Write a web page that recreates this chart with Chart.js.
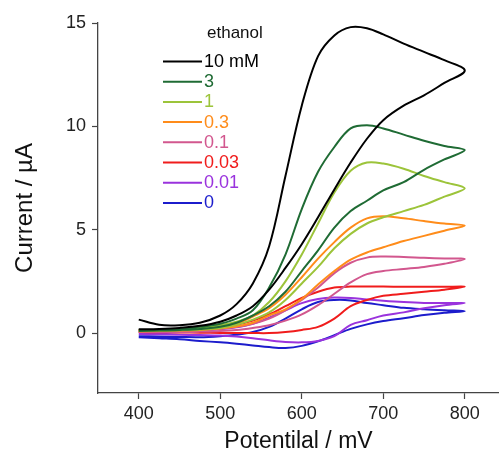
<!DOCTYPE html>
<html>
<head>
<meta charset="utf-8">
<script src="https://cdn.jsdelivr.net/npm/chart.js@4.4.0/dist/chart.umd.min.js"></script>
<style>
  html, body { margin: 0; padding: 0; background: #fff; }
  #wrap { width: 499px; height: 457px; }
</style>
</head>
<body>
<div id="wrap"><canvas id="c" width="499" height="457"></canvas></div>
<script>
// Potential grid (mV) shared by both sweep branches
const potential = [400, 425, 450, 475, 500, 520, 540, 560, 580, 600, 620, 640, 660, 680, 700, 725, 750, 775, 800];

// Currents (µA): outer (upper) branch and inner (lower) branch, on the grid above
const up_10mM  = [0.65, 0.4, 0.38, 0.5, 0.85, 1.4, 2.4, 4.2, 7.6, 11.0, 13.4, 14.4, 14.8, 14.75, 14.45, 14.0, 13.6, 13.2, 12.7];
const down_10mM = [0.18, 0.2, 0.25, 0.35, 0.55, 0.85, 1.3, 2.1, 3.15, 4.3, 5.6, 6.95, 8.25, 9.4, 10.3, 11.0, 11.5, 12.1, 12.7];

const up_3mM   = [0.15, 0.15, 0.2, 0.3, 0.45, 0.7, 1.1, 2.2, 3.8, 6.0, 7.8, 9.0, 9.9, 10.05, 9.9, 9.6, 9.3, 9.05, 8.85];
const down_3mM = [0.1, 0.12, 0.15, 0.2, 0.3, 0.5, 0.85, 1.3, 2.0, 3.0, 4.0, 5.1, 5.9, 6.4, 6.9, 7.3, 7.9, 8.4, 8.85];

const up_1mM   = [0.15, 0.15, 0.18, 0.25, 0.38, 0.55, 0.85, 1.5, 2.5, 3.8, 5.3, 6.8, 7.85, 8.25, 8.2, 7.95, 7.6, 7.3, 7.0];
const down_1mM = [0.1, 0.12, 0.14, 0.17, 0.25, 0.4, 0.65, 1.0, 1.6, 2.4, 3.2, 4.1, 4.8, 5.3, 5.6, 5.9, 6.2, 6.6, 7.0];

const up_03mM   = [0.15, 0.15, 0.17, 0.22, 0.32, 0.45, 0.8, 1.2, 1.85, 2.7, 3.6, 4.4, 5.1, 5.55, 5.65, 5.55, 5.42, 5.3, 5.2];
const down_03mM = [0.08, 0.1, 0.12, 0.15, 0.22, 0.32, 0.5, 0.85, 1.15, 1.65, 2.35, 3.0, 3.55, 3.9, 4.15, 4.45, 4.7, 4.95, 5.2];

const up_01mM   = [0.12, 0.12, 0.13, 0.16, 0.22, 0.3, 0.45, 0.7, 1.1, 1.6, 2.2, 2.9, 3.4, 3.65, 3.7, 3.68, 3.64, 3.61, 3.58];
const down_01mM = [0.05, 0.05, 0.05, 0.07, 0.1, 0.15, 0.25, 0.38, 0.6, 0.9, 1.35, 1.9, 2.45, 2.85, 3.0, 3.1, 3.2, 3.35, 3.58];

const up_003mM   = [0.1, 0.1, 0.12, 0.17, 0.28, 0.4, 0.6, 0.9, 1.3, 1.7, 2.0, 2.2, 2.25, 2.25, 2.25, 2.24, 2.24, 2.24, 2.24];
const down_003mM = [0.05, 0.04, 0.03, 0.02, 0.0, 0.0, 0.0, 0.0, 0.05, 0.15, 0.3, 0.7, 1.3, 1.6, 1.8, 1.9, 2.0, 2.1, 2.24];

const up_001mM   = [0.0, 0.02, 0.05, 0.1, 0.18, 0.28, 0.45, 0.75, 1.1, 1.45, 1.65, 1.72, 1.7, 1.62, 1.56, 1.5, 1.46, 1.45, 1.45];
const down_001mM = [-0.05, -0.06, -0.08, -0.1, -0.12, -0.17, -0.25, -0.35, -0.43, -0.45, -0.38, -0.15, 0.4, 0.62, 0.85, 1.0, 1.2, 1.35, 1.45];

const up_0mM   = [-0.15, -0.17, -0.19, -0.2, -0.15, -0.08, 0.05, 0.3, 0.7, 1.15, 1.5, 1.6, 1.58, 1.45, 1.35, 1.22, 1.15, 1.1, 1.06];
const down_0mM = [-0.2, -0.25, -0.3, -0.38, -0.45, -0.52, -0.6, -0.68, -0.72, -0.62, -0.4, -0.1, 0.2, 0.42, 0.58, 0.72, 0.87, 0.98, 1.06];

const seriesLabels = ['10 mM', '3', '1', '0.3', '0.1', '0.03', '0.01', '0'];
const seriesColors = ['#000000', '#1f6b34', '#9cc43a', '#ff8c1a', '#d2578e', '#f01c1c', '#9a33dd', '#1c1ccc'];
const upBranches = [up_10mM, up_3mM, up_1mM, up_03mM, up_01mM, up_003mM, up_001mM, up_0mM];
const downBranches = [down_10mM, down_3mM, down_1mM, down_03mM, down_01mM, down_003mM, down_001mM, down_0mM];

const xTicks = [400, 500, 600, 700, 800];
const yTicks = [0, 5, 10, 15];

function loopPoints(up, down) {
  const pts = potential.map((e, i) => ({ x: e, y: up[i] }));
  for (let i = potential.length - 2; i >= 0; i--) pts.push({ x: potential[i], y: down[i] });
  return pts;
}

const datasets = seriesLabels.map((lab, k) => ({
  label: lab,
  data: loopPoints(upBranches[k], downBranches[k]),
  borderColor: seriesColors[k],
  borderWidth: 2,
  pointRadius: 0,
  showLine: true,
  fill: false,
  tension: 0.35
}));

const FONT = '"Liberation Sans", Arial, sans-serif';

const legendPlugin = {
  id: 'inlineLegend',
  afterDraw(chart) {
    const ctx = chart.ctx;
    ctx.save();
    ctx.textBaseline = 'middle';
    ctx.textAlign = 'left';
    ctx.font = '17px ' + FONT;
    ctx.fillStyle = '#111';
    ctx.fillText('ethanol', 207, 33);
    ctx.font = '18px ' + FONT;
    seriesLabels.forEach((lab, k) => {
      const y = 61.5 + k * 20.2;
      ctx.strokeStyle = seriesColors[k];
      ctx.lineWidth = 2;
      ctx.beginPath();
      ctx.moveTo(163, y);
      ctx.lineTo(202, y);
      ctx.stroke();
      ctx.fillStyle = seriesColors[k];
      ctx.fillText(lab, 204, y + 0.5);
    });
    ctx.restore();
  }
};

new Chart(document.getElementById('c'), {
  type: 'scatter',
  data: { datasets },
  plugins: [legendPlugin],
  options: {
    responsive: false,
    animation: false,
    events: [],
    layout: { padding: { top: 23, right: 0, left: 0, bottom: 0 } },
    plugins: { legend: { display: false }, tooltip: { enabled: false } },
    scales: {
      x: {
        type: 'linear',
        min: 350, max: 842,
        afterBuildTicks: s => { s.ticks = xTicks.map(v => ({ value: v })); },
        afterFit: s => { s.height = 64; },
        grid: { display: true, drawOnChartArea: false, drawTicks: true, tickLength: 6, color: '#444', tickWidth: 1.2 },
        border: { display: true, color: '#444', width: 1.3 },
        ticks: { color: '#222', font: { family: FONT, size: 18 }, padding: 4, maxRotation: 0 },
        title: { display: true, text: 'Potentilal / mV', color: '#111', font: { family: FONT, size: 23 }, padding: { top: 0, bottom: 2 } }
      },
      y: {
        type: 'linear',
        min: -2.9, max: 15,
        afterBuildTicks: s => { s.ticks = yTicks.map(v => ({ value: v })); },
        afterFit: s => { s.width = 98; },
        grid: { display: true, drawOnChartArea: false, drawTicks: true, tickLength: 6, color: '#444', tickWidth: 1.2 },
        border: { display: true, color: '#444', width: 1.3 },
        ticks: { color: '#222', font: { family: FONT, size: 18 }, padding: 6 },
        title: { display: true, text: 'Current / µA', color: '#111', font: { family: FONT, size: 24 }, padding: { top: 11, bottom: 0 } }
      }
    }
  }
});
</script>
</body>
</html>
